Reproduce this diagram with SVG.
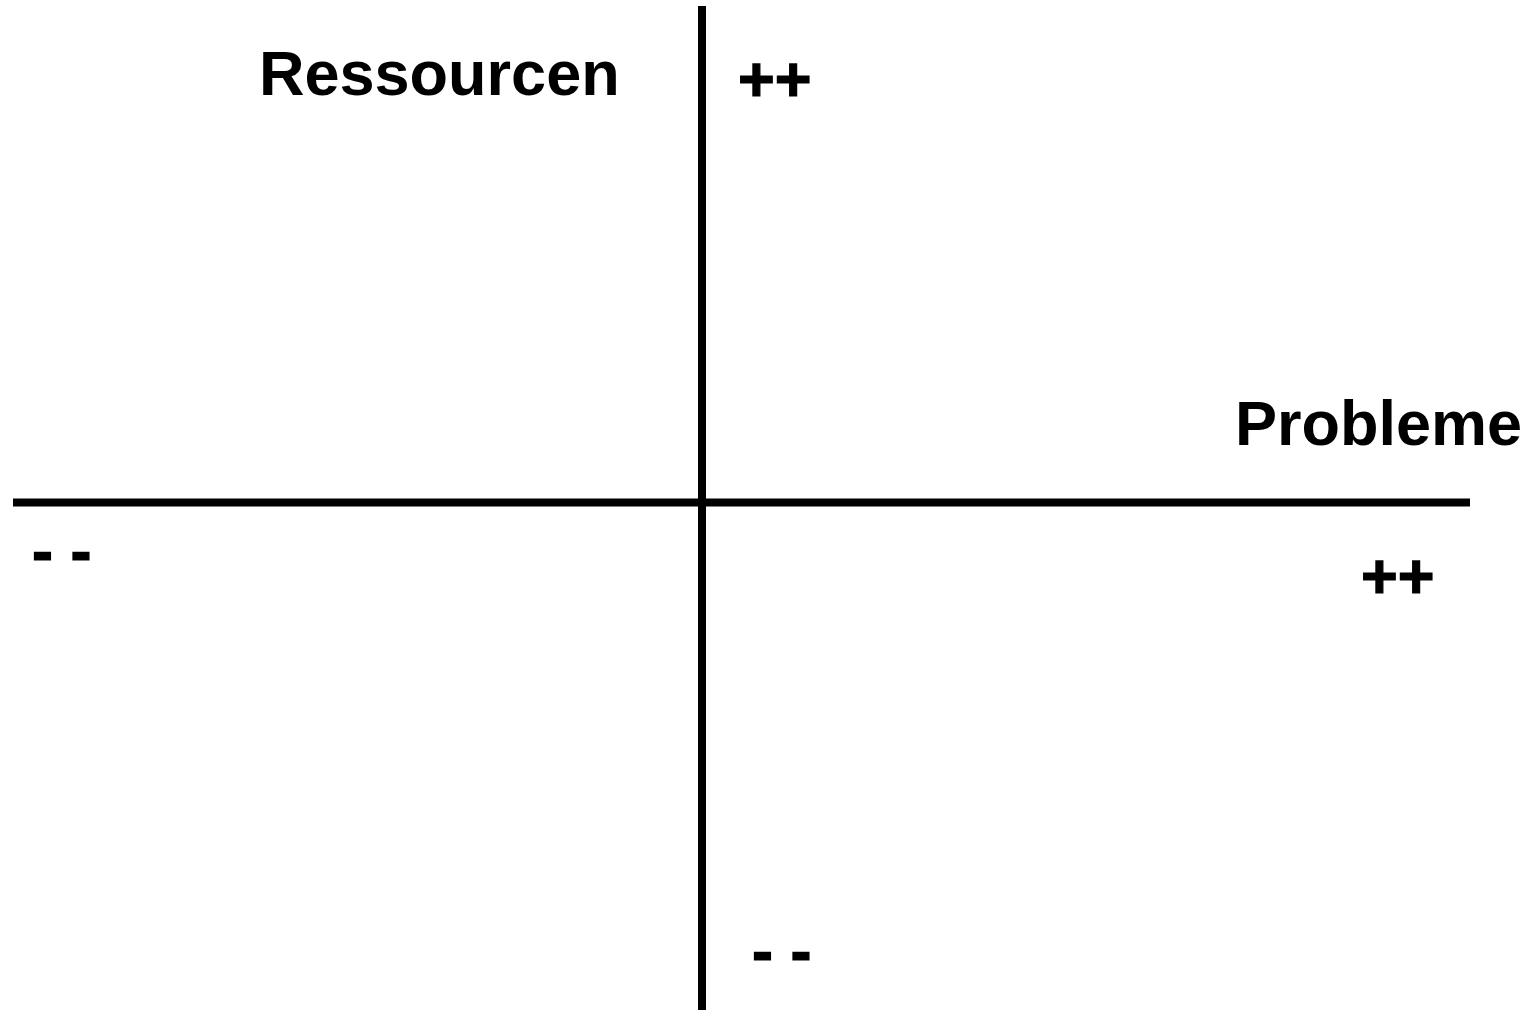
<svg xmlns="http://www.w3.org/2000/svg" width="1537" height="1010" viewBox="0 0 1537 1010">
<style>
.t{font-family:"Liberation Sans",Arial,Helvetica,sans-serif;font-weight:bold;font-size:63px;fill:#000}
.s{stroke:#000;stroke-width:1.2}
.ax{stroke:#000;stroke-width:8;fill:none}
</style>
<rect width="1537" height="1010" fill="#fff"/>
<g id="connectors">
<line class="ax" x1="13" y1="502.5" x2="1470" y2="502.5"/>
<line class="ax" x1="702" y1="6" x2="702" y2="1010"/>
</g>
<g id="label-ressourcen"><text class="t" x="259" y="95">Ressourcen</text></g>
<g id="label-probleme"><text class="t" x="1235" y="445">Probleme</text></g>
<g id="top-plus"><text class="t s" x="738" y="101">++</text></g>
<g id="right-plus"><text class="t s" x="1361" y="598">++</text></g>
<g id="left-minus"><text class="t s" x="32" y="573" font-size="66">- -</text></g>
<g id="bottom-minus"><text class="t s" x="752" y="973" font-size="66">- -</text></g>
</svg>
